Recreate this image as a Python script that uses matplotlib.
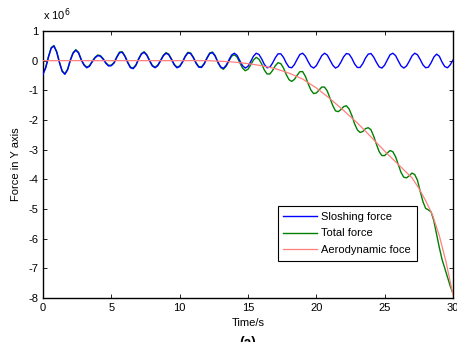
import numpy as np
import matplotlib
matplotlib.use("Agg")
import matplotlib.pyplot as plt

plt.rcParams['font.family'] = ['Liberation Sans', 'DejaVu Sans']

# time grid of the samples (s)
time = np.arange(0, 30.001, 0.2)

# sloshing force (x 1e6), read every 0.2 s
sloshing = [
    -0.46, -0.24, 0.12, 0.42, 0.49, 0.29, -0.06, -0.36, -0.46, -0.31,
    0.01, 0.25, 0.35, 0.26, 0.02, -0.15, -0.24, -0.19, -0.04, 0.09,
    0.17, 0.15, 0.05, -0.09, -0.18, -0.17, -0.08, 0.11, 0.27, 0.28,
    0.14, -0.07, -0.24, -0.27, -0.16, 0.05, 0.22, 0.28, 0.18, -0.01,
    -0.18, -0.24, -0.17, -0.01, 0.16, 0.25, 0.20, 0.04, -0.14, -0.24,
    -0.20, -0.06, 0.13, 0.26, 0.24, 0.10, -0.09, -0.22, -0.23, -0.11,
    0.08, 0.24, 0.27, 0.15, -0.05, -0.21, -0.26, -0.16, 0.02, 0.19,
    0.25, 0.18, 0.00, -0.17, -0.25, -0.19, -0.03, 0.15, 0.25, 0.21,
    0.06, -0.13, -0.24, -0.22, -0.08, 0.10, 0.23, 0.23, 0.11, -0.08,
    -0.22, -0.24, -0.13, 0.05, 0.21, 0.25, 0.15, -0.03, -0.19, -0.25,
    -0.17, 0.00, 0.17, 0.25, 0.19, 0.02, -0.15, -0.25, -0.20, -0.05,
    0.13, 0.24, 0.22, 0.08, -0.11, -0.23, -0.23, -0.10, 0.09, 0.22,
    0.24, 0.12, -0.06, -0.21, -0.25, -0.15, 0.03, 0.20, 0.25, 0.17,
    -0.01, -0.18, -0.25, -0.18, -0.02, 0.16, 0.25, 0.20, 0.04, -0.14,
    -0.24, -0.22, -0.07, 0.12, 0.22, 0.15, -0.05, -0.20, -0.24, -0.14,
    0.02,
]

# total force (x 1e6), same grid
total = [
    -0.44, -0.22, 0.14, 0.44, 0.51, 0.31, -0.04, -0.34, -0.44, -0.29,
    0.03, 0.27, 0.37, 0.28, 0.04, -0.13, -0.22, -0.17, -0.02, 0.11,
    0.19, 0.17, 0.07, -0.07, -0.16, -0.15, -0.06, 0.13, 0.29, 0.30,
    0.16, -0.05, -0.22, -0.25, -0.14, 0.07, 0.24, 0.30, 0.20, 0.01,
    -0.16, -0.22, -0.15, 0.01, 0.18, 0.27, 0.22, 0.06, -0.12, -0.22,
    -0.18, -0.04, 0.15, 0.28, 0.26, 0.12, -0.07, -0.20, -0.21, -0.09,
    0.10, 0.26, 0.29, 0.17, -0.07, -0.23, -0.29, -0.19, -0.02, 0.15,
    0.20, 0.12, -0.07, -0.25, -0.34, -0.29, -0.14, 0.02, 0.11, 0.05,
    -0.11, -0.32, -0.45, -0.45, -0.33, -0.17, -0.07, -0.10, -0.25, -0.47,
    -0.64, -0.70, -0.63, -0.49, -0.37, -0.37, -0.53, -0.77, -0.99, -1.11,
    -1.09, -0.99, -0.89, -0.89, -1.02, -1.26, -1.51, -1.69, -1.72, -1.65,
    -1.55, -1.52, -1.63, -1.85, -2.13, -2.33, -2.42, -2.39, -2.29, -2.26,
    -2.33, -2.55, -2.82, -3.07, -3.20, -3.20, -3.11, -3.03, -3.07, -3.24,
    -3.51, -3.77, -3.93, -3.95, -3.88, -3.79, -3.84, -4.03, -4.40, -4.75,
    -4.98, -5.03, -5.10, -5.40, -5.85, -6.30, -6.70, -7.00, -7.30, -7.60,
    -7.85,
]

# aerodynamic force (x 1e6)
aero_time = [0, 2, 4, 6, 8, 10, 12, 13, 14, 15, 16, 17, 18, 19, 20, 21, 22,
             23, 24, 25, 26, 27, 27.5, 28, 28.5, 29, 29.5, 30]
aero = [0.0, 0.0, 0.0, 0.0, 0.0, 0.0, 0.0, -0.02, -0.05, -0.10, -0.17, -0.27,
        -0.42, -0.62, -0.92, -1.28, -1.68, -2.10, -2.57, -3.05, -3.50, -3.95,
        -4.30, -4.72, -5.20, -5.90, -6.80, -7.90]

fig = plt.figure(figsize=(4.57, 3.42), dpi=100)
ax = fig.add_axes([0.0941, 0.1287, 0.8971, 0.7807])

scale = 1e6
ax.plot(time, np.array(sloshing) * scale, color='#0000ff', lw=1.0, label='Sloshing force', zorder=3)
ax.plot(time, np.array(total) * scale, color='#008000', lw=1.0, label='Total force', zorder=2)
ax.plot(aero_time, np.array(aero) * scale, color='#ff7f7f', lw=0.9, label='Aerodynamic foce', zorder=4)

ax.set_xlim(0, 30)
ax.set_ylim(-8e6, 1e6)
ax.set_xticks(range(0, 31, 5))
ax.set_yticks(np.arange(-8, 2, 1) * scale)
ax.set_yticklabels([str(v) for v in range(-8, 2)])
ax.tick_params(direction='in', length=3, top=True, right=True, labelsize=8, width=0.6)
for s in ax.spines.values():
    s.set_linewidth(1.0)

ax.text(0.0, 1.03, r'x 10$^6$', transform=ax.transAxes, fontsize=8, ha='left', va='bottom')
ax.set_xlabel('Time/s', fontsize=8, labelpad=4)
ax.set_ylabel('Force in Y axis', fontsize=8, labelpad=5)

leg = ax.legend(loc='lower left', bbox_to_anchor=(0.573, 0.139), fontsize=8,
                fancybox=False, edgecolor='black', framealpha=1, handlelength=3.0,
                borderaxespad=0, borderpad=0.5, labelspacing=0.62, handletextpad=0.4)
leg.get_frame().set_linewidth(0.8)

fig.text(0.543, 0.0175, '(a)', fontsize=10, fontweight='bold', ha='center', va='top')

fig.savefig('out.png', dpi=100)
